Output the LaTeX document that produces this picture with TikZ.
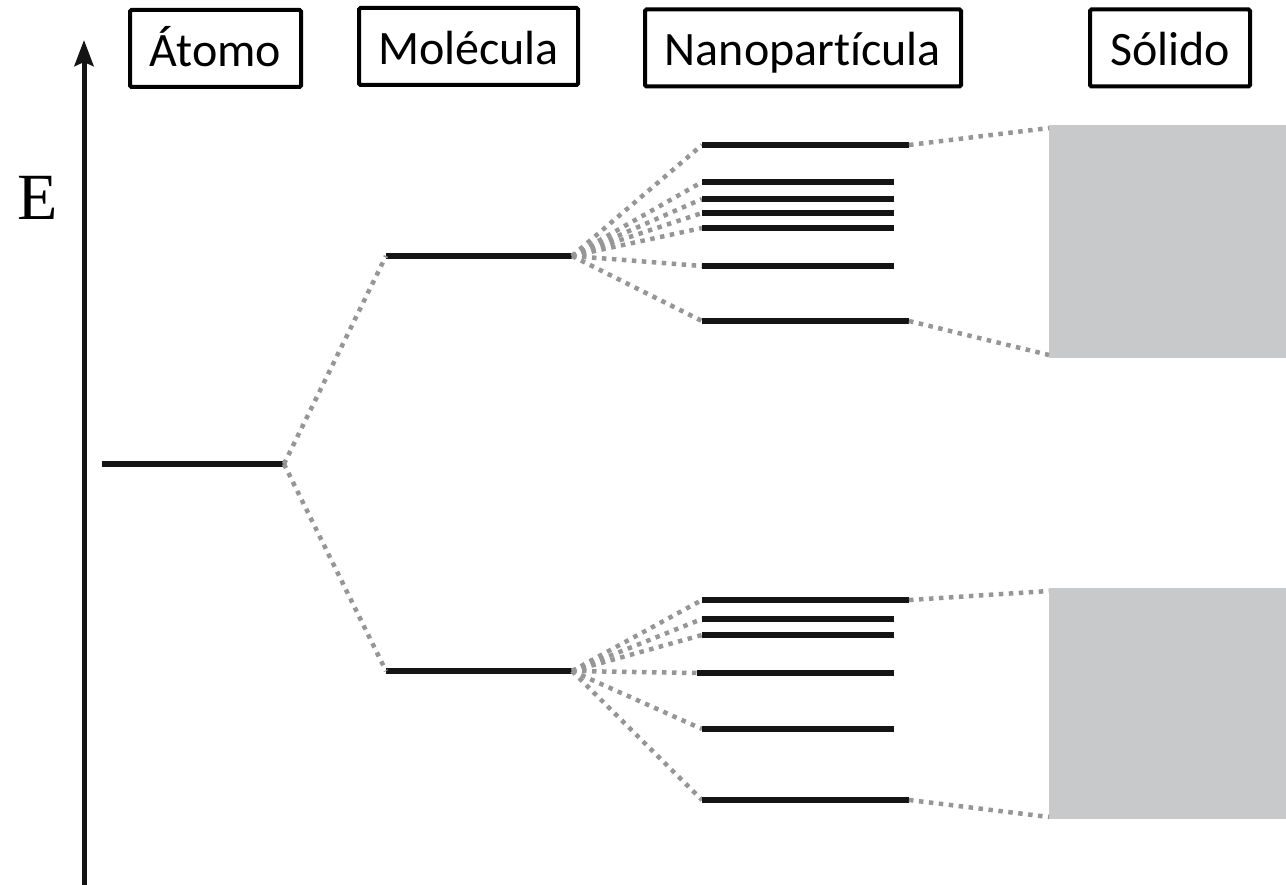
\documentclass[tikz,border=0pt]{standalone}
\usepackage{fontspec}
\setmainfont{Carlito}[Ligatures={NoCommon}]
\newfontfamily\serifE{Liberation Serif}
\usetikzlibrary{arrows.meta}
\definecolor{solidgray}{RGB}{200,201,203}
\definecolor{dotgray}{RGB}{150,150,150}
\definecolor{lvlblack}{RGB}{20,20,20}
\begin{document}
\begin{tikzpicture}[x=1pt,y=-1pt,
  lvl/.style={line width=6.5pt, lvlblack},
  conn/.style={line width=4.5pt, dotgray, dash pattern=on 4.5pt off 5.5pt},
  lbl/.style={draw, line width=4pt, rounded corners=1.5pt, inner sep=0pt,
              minimum height=77pt, text height=44pt, text depth=8pt,
              font=\fontsize{48}{50}\selectfont},
  band/.style={fill=solidgray, draw=none}]
\useasboundingbox (0,0) rectangle (1286,885);

% axis
\coordinate (axbot) at (84,885);
\coordinate (axtop) at (84,40);
\draw[line width=5pt, lvlblack, -{Stealth[length=26pt,width=19pt,inset=4pt]}] (axbot) -- (axtop);
\node[font=\serifE\fontsize{66}{66}\selectfont, inner sep=0pt] (E) at (38,198) {E};

% labels
\node[lbl, minimum width=171pt] (atomo) at (215.5,48.5) {Átomo};
\node[lbl, minimum width=219pt] (molecula) at (468.5,46.5) {Molécula};
\node[lbl, minimum width=316pt] (nano) at (803,48) {Nanopartícula};
\node[lbl, minimum width=160pt] (solido) at (1170,48) {Sólido};

% solid bands
\fill[band] (1049,125) coordinate (sUtl) rectangle (1286,358);
\coordinate (sUbl) at (1049,355);
\fill[band] (1049,588) coordinate (sLtl) rectangle (1286,819);
\coordinate (sLbl) at (1049,817);
\coordinate (sUtlc) at (1049,128);
\coordinate (sLtlc) at (1049,591);

% atom level
\coordinate (aL) at (102,464);
\coordinate (aR) at (284,464);
\draw[lvl] (aL) -- (aR);

% molecule levels
\coordinate (mUL) at (386,256); \coordinate (mUR) at (572,256);
\coordinate (mLL) at (386,671); \coordinate (mLR) at (572,671);
\draw[lvl] (mUL) -- (mUR);
\draw[lvl] (mLL) -- (mLR);

% connectors atom -> molecule
\draw[conn] (aR) -- (mUL);
\draw[conn] (aR) -- (mLL);

% nanoparticle upper levels
\foreach \i/\y/\xr in {1/145/909, 2/182/894, 3/199/894, 4/213/894, 5/228/894, 6/266/894, 7/321/909} {
  \coordinate (nuL\i) at (702,\y);
  \coordinate (nuR\i) at (\xr,\y);
  \draw[conn] (mUR) -- (nuL\i);
  \draw[lvl] (nuL\i) -- (nuR\i);
}
% nanoparticle lower levels
\foreach \i/\y/\xl/\xr in {1/600/702/909, 2/619/702/894, 3/635/702/894, 4/673/697/894, 5/729/702/894, 6/800/702/909} {
  \coordinate (nlL\i) at (\xl,\y);
  \coordinate (nlR\i) at (\xr,\y);
  \draw[conn] (mLR) -- (nlL\i);
  \draw[lvl] (nlL\i) -- (nlR\i);
}

% connectors nano -> solid
\draw[conn] (nuR1) -- (sUtlc);
\draw[conn] (nuR7) -- (sUbl);
\draw[conn] (nlR1) -- (sLtlc);
\draw[conn] (nlR6) -- (sLbl);
\end{tikzpicture}
\end{document}
